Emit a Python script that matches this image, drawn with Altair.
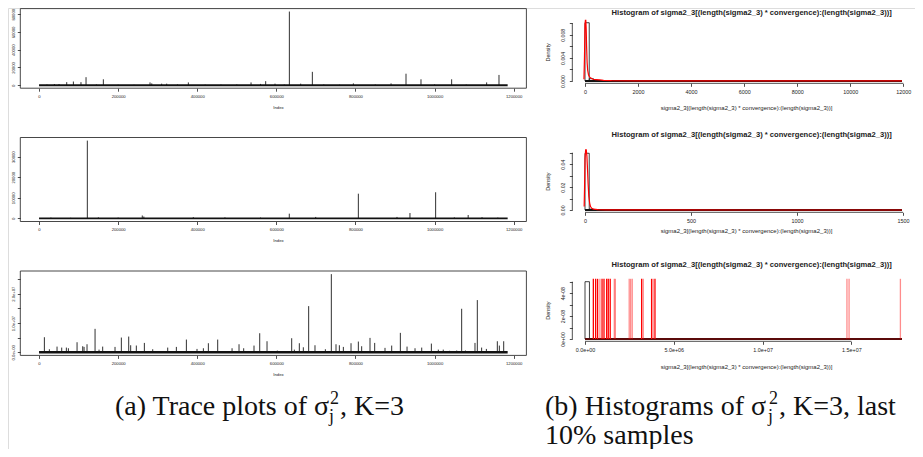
import altair as alt
import pandas as pd

W, H = 907, 441
PAGE = 8  # page margin: reference positions are measured on screen


def sx(v):
    return v - PAGE


def sy(v):
    return v - PAGE


SANS = "Liberation Sans"
SERIF = "Liberation Serif"
INK = "#222222"

# ------------------------------------------------------------------ data
# trace plots (Index, value of spikes); the rest of the chain sits near zero
t_last_index = 1184800
t_xticks = [0, 200000, 400000, 600000, 800000, 1000000, 1200000]
t_xlabels = ["0", "200000", "400000", "600000", "800000", "1000000", "1200000"]

t1_index = [20000, 38800, 50500, 70000, 86800, 106000, 118800, 145000, 162600, 200000,
            240000, 280600, 285000, 310000, 322700, 350000, 377500, 420000, 460000, 500000,
            536000, 560000, 573000, 596600, 620000, 632900, 661500, 691000, 720000, 760000,
            794700, 850000, 890000, 927800, 965700, 1000000, 1043200, 1080000, 1131700, 1162900]
t1_value = [800, 1400, 1400, 3500, 4200, 3500, 9100, 900, 6700, 700,
            600, 3200, 2100, 1800, 1800, 900, 3200, 700, 800, 900,
            3200, 1500, 4600, 1800, 800, 83000, 1800, 15100, 900, 700,
            2100, 900, 2100, 13000, 6700, 1000, 6700, 800, 3200, 11600]
t1_max = 83000
t1_yticks = [0, 20000, 40000, 60000, 80000]
t1_ylabels = ["0", "20000", "40000", "60000", "80000"]

t2_index = [30000, 80000, 122100, 150000, 200000, 261000, 265000, 390000, 470000, 560000,
            632700, 699500, 807300, 905000, 937800, 1002700, 1050000, 1085000, 1120000, 1160000]
t2_value = [400, 300, 37800, 500, 400, 1400, 900, 600, 500, 400,
            2300, 700, 12000, 700, 2600, 12700, 500, 1650, 600, 400]
t2_max = 37800
t2_yticks = [0, 10000, 20000, 30000]
t2_ylabels = ["0", "10000", "20000", "30000"]

t3_index = [13500, 26100, 45500, 57300, 69100, 74200, 96100, 110400, 113800, 121300,
            141600, 151700, 160900, 192100, 208100, 226700, 231700, 246000, 266300, 287400,
            325300, 347200, 372500, 399400, 415500, 428100, 451700, 488000, 505600, 517400,
            543500, 557900, 576400, 602500, 638800, 645500, 658100, 668200, 681700, 697700,
            723900, 739000, 750800, 759300, 769400, 788800, 807300, 815700, 836800, 848600,
            874700, 891600, 913500, 930400, 950600, 967500, 991900, 1009500, 1022000, 1038000,
            1056000, 1068500, 1078000, 1102200, 1108100, 1119000, 1131000, 1158700, 1163800, 1174800]
t3_value = [5.14e6, 1.03e6, 1.94e6, 1.6e6, 1.6e6, 1.37e6, 3.43e6, 2.06e6, 1.83e6, 2.74e6,
            8.0e6, 0.9e6, 1.94e6, 1.83e6, 5.03e6, 5.37e6, 2.4e6, 2.3e6, 3.2e6, 1.03e6,
            1.6e6, 1.83e6, 4.34e6, 1.14e6, 1.37e6, 3.09e6, 4.34e6, 1.37e6, 2.74e6, 1.37e6,
            2.29e6, 6.51e6, 3.77e6, 0.57e6, 4.8e6, 0.9e6, 3.09e6, 1.71e6, 1.577e7, 2.4e6,
            1.03e6, 2.67e7, 2.74e6, 2.4e6, 1.83e6, 3.09e6, 3.66e6, 2.06e6, 4.91e6, 3.2e6,
            1.5e6, 2.29e6, 6.63e6, 1.94e6, 1.37e6, 1.6e6, 2.97e6, 0.9e6, 0.9e6, 0.5e6,
            0.6e6, 1.486e7, 0.6e6, 3.2e6, 1.783e7, 1.6e6, 1.14e6, 3.77e6, 2.29e6, 3.77e6]
t3_max = 2.67e7
t3_yticks = [0, 5e6, 1e7, 1.5e7, 2e7, 2.5e7]
t3_ylabels = ["0.0e+00", "", "1.0e+07", "", "2.0e+07", ""]

# histograms of the last 10% of the samples
hist_title = "Histogram of sigma2_3[(length(sigma2_3) * convergence):(length(sigma2_3))]"
hist_xtitle = "sigma2_3[(length(sigma2_3) * convergence):(length(sigma2_3))]"
hist_ytitle = "Density"

h1_max = 11950
h1_ymax = 0.0101
h1_bin_left = [0, 160, 320]
h1_bin_right = [160, 320, 480]
h1_density = [0.0101, 0.0004, 0.00015]
h1_curve_x = [-40, -20, 0, 15, 30, 45, 60, 80, 100, 130, 170, 220, 300, 400, 550, 700,
              1000, 2000, 4000, 8000, 11950]
h1_curve_y = [0.0003, 0.0040, 0.0098, 0.0105, 0.0105, 0.0090, 0.0060, 0.0032, 0.0019, 0.0011,
              0.0007, 0.0005, 0.0003, 0.00025, 0.00018, 0.0001, 0.00005, 0.00003, 0.00002,
              0.00001, 0.00001]
h1_xticks = [0, 2000, 4000, 6000, 8000, 10000, 12000]
h1_xlabels = ["0", "2000", "4000", "6000", "8000", "10000", "12000"]
h1_yticks = [0, 0.002, 0.004, 0.006, 0.008, 0.010]
h1_ylabels = ["0.000", "", "0.004", "", "0.008", ""]

h2_max = 1495
h2_ymax = 0.0505
h2_bin_left = [0, 20]
h2_bin_right = [20, 40]
h2_density = [0.0495, 0.0008]
h2_curve_x = [-4, -2, 0, 3, 6, 9, 12, 15, 18, 22, 26, 32, 40, 60, 100, 300, 800, 1495]
h2_curve_y = [0.003, 0.02, 0.045, 0.0525, 0.0525, 0.047, 0.035, 0.022, 0.012, 0.006, 0.003,
              0.0015, 0.0007, 0.0003, 0.0001, 0.00003, 0.00001, 0.00001]
h2_xticks = [0, 500, 1000, 1500]
h2_xlabels = ["0", "500", "1000", "1500"]
h2_yticks = [0, 0.01, 0.02, 0.03, 0.04, 0.05]
h2_ylabels = ["0.00", "", "0.02", "", "0.04", ""]

h3_max = 1.785e7
h3_ymax = 5.05e-8
h3_bin_left = [0]
h3_bin_right = [250000]
h3_density = [5.0e-8]
h3_spike_strong = [0.47e6, 0.60e6, 0.71e6, 0.96e6, 1.07e6, 1.22e6, 1.31e6, 1.42e6, 3.19e6,
                   3.75e6, 3.94e6]
h3_spike_light = [0.84e6, 1.65e6, 1.71e6, 2.49e6, 2.57e6, 2.66e6, 3.28e6, 3.84e6, 14.75e6,
                  14.87e6, 17.76e6]
h3_xticks = [0, 5e6, 1e7, 1.5e7]
h3_xlabels = ["0.0e+00", "5.0e+06", "1.0e+07", "1.5e+07"]
h3_yticks = [0, 1e-8, 2e-8, 3e-8, 4e-8, 5e-8]
h3_ylabels = ["0e+00", "", "2e-08", "", "4e-08", ""]

caption_a = ["(a) Trace plots of σ", "2", "j", ", K=3"]
caption_b = ["(b) Histograms of σ", "2", "j", ", K=3, last", "10% samples"]

# ------------------------------------------------------------------ helpers


def label_expr(values, labels):
    tol = (max(values) - min(values)) * 1e-4
    expr = "''"
    for v, lab in reversed(list(zip(values, labels))):
        expr = f"(abs(datum.value - ({v!r})) < {tol!r}) ? '{lab}' : {expr}"
    return expr


def x_axis(values, labels, axis_y, title, title_x, title_y, fs, tfs, pad):
    ay = sy(axis_y)
    return alt.Axis(
        orient="bottom", offset=ay - H, values=values, labelExpr=label_expr(values, labels),
        domain=False, grid=False, ticks=True, tickSize=3, tickWidth=0.8, tickColor=INK,
        labelFont=SANS, labelFontSize=fs, labelColor=INK, labelPadding=pad, labelAngle=0,
        labelOverlap=False, labelFlush=False, labelBound=False,
        title=title, titleFont=SANS, titleFontSize=tfs, titleFontWeight="normal",
        titleColor=INK, titleX=sx(title_x), titleY=sy(title_y) - ay,
        titleAlign="center", titleBaseline="middle", titleAngle=0,
    )


def y_axis(values, labels, axis_x, title, title_x, title_y, fs, tfs, pad):
    ax = sx(axis_x)
    if title:
        kw = dict(title=title, titleFont=SANS, titleFontSize=tfs, titleFontWeight="normal",
                  titleColor=INK, titleX=sx(title_x) - ax, titleY=sy(title_y),
                  titleAlign="center", titleBaseline="middle", titleAngle=270)
    else:
        kw = dict(title=None)
    return alt.Axis(
        orient="left", offset=-ax, values=values, labelExpr=label_expr(values, labels),
        domain=False, grid=False, ticks=True, tickSize=3, tickWidth=0.8, tickColor=INK,
        labelFont=SANS, labelFontSize=fs, labelColor=INK, labelPadding=pad, labelAngle=270,
        labelAlign="center", labelBaseline="bottom",
        labelOverlap=False, labelFlush=False, labelBound=False, **kw,
    )


layers = []

# ------------------------------------------------------------------ trace panels
TX_LO = -0.04 * t_last_index
TX_HI = 1.04 * t_last_index
TRACE_X_RANGE = [sx(20.3), sx(526.4)]


def trace_panel(index, value, ymax, yticks, ylabels, top, bottom, base_w):
    xs = alt.Scale(domain=[TX_LO, TX_HI], range=TRACE_X_RANGE, nice=False, zero=False)
    ylo, yhi = -0.04 * ymax, 1.04 * ymax
    ys = alt.Scale(domain=[ylo, yhi], range=[sy(bottom), sy(top)], nice=False, zero=False)
    frame = alt.Chart(pd.DataFrame({"x": [TX_LO], "x2": [TX_HI], "y": [ylo], "y2": [yhi]})).mark_rect(
        fill="white", fillOpacity=0, stroke="#333333", strokeWidth=0.9
    ).encode(
        x=alt.X("x:Q", scale=xs,
                axis=x_axis(t_xticks, t_xlabels, bottom, "Index", 278, bottom + 19, 4.2, 4.3, 3)),
        x2="x2:Q",
        y=alt.Y("y:Q", scale=ys, axis=y_axis(yticks, ylabels, 20.3, None, 0, 0, 4.2, 4.3, 2)),
        y2="y2:Q",
    )
    spikes = alt.Chart(pd.DataFrame({"i": index, "v": value, "z": [0] * len(index)})).mark_rule(
        color="#1a1a1a", strokeWidth=0.9
    ).encode(
        x=alt.X("i:Q", scale=xs, axis=None),
        y=alt.Y("z:Q", scale=ys, axis=None),
        y2="v:Q",
    )
    base = alt.Chart(pd.DataFrame({"a": [0], "b": [t_last_index], "z": [0]})).mark_rule(
        color="#111111", strokeWidth=base_w
    ).encode(
        x=alt.X("a:Q", scale=xs, axis=None), x2="b:Q",
        y=alt.Y("z:Q", scale=ys, axis=None),
    )
    return [frame, spikes, base]


layers += trace_panel(t1_index, t1_value, t1_max, t1_yticks, t1_ylabels, 8.6, 88.2, 1.8)
layers += trace_panel(t2_index, t2_value, t2_max, t2_yticks, t2_ylabels, 137.5, 221.5, 1.8)
layers += trace_panel(t3_index, t3_value, t3_max, t3_yticks, t3_ylabels, 271.0, 355.4, 2.4)

# ------------------------------------------------------------------ histogram panels
HX0, HXM = 585.0, 902.0  # screen x of 0 and of the data maximum


def hist_panel(M, Y, zero_y, k, bl, br, dens, xticks, xlabels, yticks, ylabels,
               title_y, xtitle_y, curve=None, spikes_strong=None, spikes_light=None):
    span = HXM - HX0
    xs = alt.Scale(domain=[-0.04 * M, 1.04 * M],
                   range=[sx(HX0 - 0.04 * span), sx(HX0 + 1.04 * span)], nice=False, zero=False)
    ylo, yhi = -0.04 * Y, 1.04 * Y
    bottom = zero_y + 0.04 * Y * k
    top = zero_y - 1.04 * Y * k
    ys = alt.Scale(domain=[ylo, yhi], range=[sy(bottom), sy(top)], nice=False, zero=False)
    out = []
    # axis lines from first to last tick (R style), carrying the axes
    out.append(alt.Chart(pd.DataFrame({"a": [xticks[0]], "b": [xticks[-1]], "y": [ylo]})).mark_rule(
        color=INK, strokeWidth=0.8).encode(
        x=alt.X("a:Q", scale=xs,
                axis=x_axis(xticks, xlabels, bottom, hist_xtitle, 746, xtitle_y, 5.4, 6.0, 3)),
        x2="b:Q",
        y=alt.Y("y:Q", scale=ys,
                axis=y_axis(yticks, ylabels, HX0 - 0.04 * span, hist_ytitle, 547,
                            (top + bottom) / 2, 5.2, 5.5, 4)),
    ))
    out.append(alt.Chart(pd.DataFrame({"x": [-0.04 * M], "a": [yticks[0]], "b": [yticks[-1]]})).mark_rule(
        color=INK, strokeWidth=0.8).encode(
        x=alt.X("x:Q", scale=xs, axis=None),
        y=alt.Y("a:Q", scale=ys, axis=None), y2="b:Q",
    ))
    # bars
    out.append(alt.Chart(pd.DataFrame({"l": bl, "r": br, "d": dens, "z": [0] * len(bl)})).mark_rect(
        fill="white", fillOpacity=0, stroke="#111111", strokeWidth=0.8).encode(
        x=alt.X("l:Q", scale=xs, axis=None), x2="r:Q",
        y=alt.Y("z:Q", scale=ys, axis=None), y2="d:Q",
    ))
    # many tiny bins: thick baseline
    out.append(alt.Chart(pd.DataFrame({"a": [0], "b": [M], "z": [0]})).mark_rule(
        color="#111111", strokeWidth=2.0).encode(
        x=alt.X("a:Q", scale=xs, axis=None), x2="b:Q",
        y=alt.Y("z:Q", scale=ys, axis=None),
    ))
    if curve is not None:
        cx, cy = curve
        out.append(alt.Chart(pd.DataFrame({"x": cx, "y": cy})).mark_line(
            color="#ff0000", strokeWidth=1.2).encode(
            x=alt.X("x:Q", scale=xs, axis=None),
            y=alt.Y("y:Q", scale=ys, axis=None),
            order="x:Q",
        ))
    if spikes_strong is not None:
        out.append(alt.Chart(pd.DataFrame({"x": [0, M], "z": [0, 0]})).mark_line(
            color="#cc0000", strokeWidth=0.8).encode(
            x=alt.X("x:Q", scale=xs, axis=None),
            y=alt.Y("z:Q", scale=ys, axis=None),
        ))
        for vals, op in ((spikes_light, 0.45), (spikes_strong, 1.0)):
            out.append(alt.Chart(pd.DataFrame({"x": vals, "z": [0] * len(vals), "t": [yhi] * len(vals)})).mark_rule(
                color="#ff0000", strokeWidth=1.3, opacity=op).encode(
                x=alt.X("x:Q", scale=xs, axis=None),
                y=alt.Y("z:Q", scale=ys, axis=None), y2="t:Q",
            ))
    # title
    out.append(alt.Chart(pd.DataFrame({"t": [hist_title]})).mark_text(
        font=SANS, fontSize=7.6, fontWeight="bold", color=INK, align="center", baseline="middle"
    ).encode(x=alt.value(sx(751.7)), y=alt.value(sy(title_y)), text="t:N"))
    return out


layers += hist_panel(h1_max, h1_ymax, 81.0, 5770.0, h1_bin_left, h1_bin_right, h1_density,
                     h1_xticks, h1_xlabels, h1_yticks, h1_ylabels, 12.5, 107.0,
                     curve=(h1_curve_x, h1_curve_y))
layers += hist_panel(h2_max, h2_ymax, 210.0, 1146.0, h2_bin_left, h2_bin_right, h2_density,
                     h2_xticks, h2_xlabels, h2_yticks, h2_ylabels, 135.0, 230.0,
                     curve=(h2_curve_x, h2_curve_y))
layers += hist_panel(h3_max, h3_ymax, 339.0, 1.146e9, h3_bin_left, h3_bin_right, h3_density,
                     h3_xticks, h3_xlabels, h3_yticks, h3_ylabels, 265.0, 366.7,
                     spikes_strong=h3_spike_strong, spikes_light=h3_spike_light)

# ------------------------------------------------------------------ captions


def txt(s, x, y, size, align="left"):
    return alt.Chart(pd.DataFrame({"t": [s]})).mark_text(
        font=SERIF, fontSize=size, color="#111111", align=align, baseline="alphabetic"
    ).encode(x=alt.value(sx(x)), y=alt.value(sy(y)), text="t:N")


CAP = 28
SUP = 18
L1 = 415
layers += [
    txt(caption_a[0], 115, L1, CAP),
    txt(caption_a[1], 330, L1 - 11, SUP),
    txt(caption_a[2], 329, L1 + 7, SUP),
    txt(caption_a[3], 340, L1, CAP),
    txt(caption_b[0], 545, L1, CAP),
    txt(caption_b[1], 769, L1 - 11, SUP),
    txt(caption_b[2], 768, L1 + 7, SUP),
    txt(caption_b[3], 779, L1, CAP),
    txt(caption_b[4], 545, 444, CAP),
]

chart = alt.layer(*layers).resolve_scale(x="independent", y="independent").properties(
    width=W, height=H, autosize=alt.AutoSizeParams(type="none"), padding=0
).configure_view(stroke=None).configure(background="white")

chart.save("out.html", embed_options={"renderer": "svg", "actions": False})
